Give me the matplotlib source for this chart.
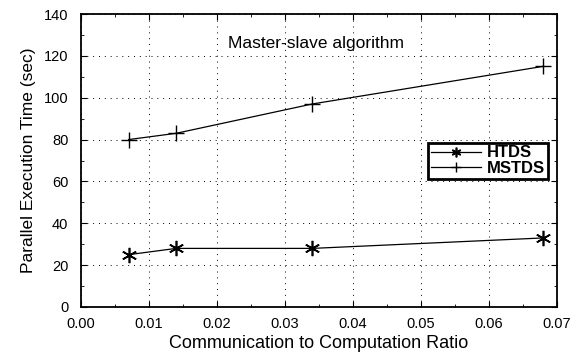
import matplotlib.pyplot as plt
from matplotlib.ticker import MultipleLocator

plt.rcParams['font.family'] = ['Liberation Sans', 'DejaVu Sans']

# data
ratio = [0.007, 0.014, 0.034, 0.068]
htds = [25, 28, 28, 33]
mstds = [80, 83, 97, 115]

fig = plt.figure(figsize=(5.77, 3.53), dpi=100)
ax = fig.add_axes([81 / 577, 1 - 307 / 353, (557 - 81) / 577, (307 - 14) / 353])

ax.plot(ratio, htds, color='black', lw=0.9, marker=(6, 2, 0), ms=11, mew=1.2, label='HTDS')
ax.plot(ratio, mstds, color='black', lw=0.9, marker='+', ms=11, mew=1.0, label='MSTDS')

ax.set_xlim(0, 0.07)
ax.set_ylim(0, 140)
ax.xaxis.set_major_locator(MultipleLocator(0.01))
ax.xaxis.set_minor_locator(MultipleLocator(0.005))
ax.yaxis.set_major_locator(MultipleLocator(20))
ax.yaxis.set_minor_locator(MultipleLocator(10))
ax.xaxis.set_major_formatter(plt.FormatStrFormatter('%.2f'))
ax.tick_params(which='both', direction='in', top=True, right=True, labelsize=10.5)
ax.tick_params(axis='x', pad=7)
ax.tick_params(axis='y', pad=9)
ax.tick_params(which='major', length=4)
ax.tick_params(which='minor', length=2)
ax.grid(True, which='major', color='black', ls=(0, (1, 5)), lw=0.7)
for s in ax.spines.values():
    s.set_linewidth(1.3)

ax.text(0.0345, 126, 'Master-slave algorithm', ha='center', va='center', fontsize=12.5)
ax.set_xlabel('Communication to Computation Ratio', fontsize=13, va='center')
ax.xaxis.set_label_coords(0.5, -(343 - 307) / 293)
ax.set_ylabel('Parallel Execution Time (sec)', fontsize=12.5, labelpad=6)

leg = ax.legend(loc='upper right', bbox_to_anchor=(0.981, 0.560),
                prop={'size': 12, 'weight': 'bold'},
                fancybox=False, framealpha=1, edgecolor='black', borderpad=0.15,
                handlelength=3.0, handletextpad=0.4, labelspacing=0.05, borderaxespad=0)
leg.get_frame().set_linewidth(2.0)
for h in leg.legend_handles:
    h.set_markersize(7)

fig.savefig('out.png', dpi=100)
